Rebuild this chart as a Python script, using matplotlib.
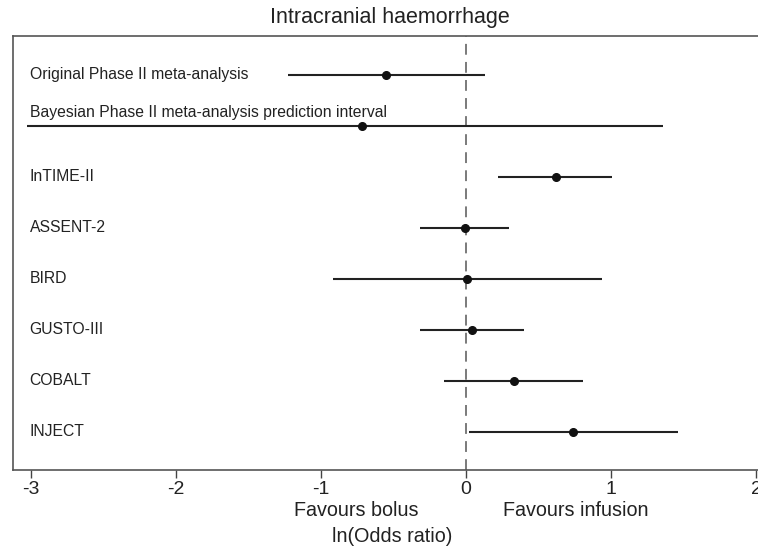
import matplotlib
matplotlib.use('Agg')
import matplotlib.pyplot as plt

# данные: ln(OR) с интервалами
studies = ["Original Phase II meta-analysis",
           "Bayesian Phase II meta-analysis prediction interval",
           "InTIME-II", "ASSENT-2", "BIRD", "GUSTO-III", "COBALT", "INJECT"]
estimate = [-0.55, -0.72, 0.62, -0.01, 0.01, 0.04, 0.33, 0.74]
lower = [-1.23, -3.03, 0.22, -0.32, -0.92, -0.32, -0.15, 0.02]
upper = [0.13, 1.36, 1.01, 0.30, 0.94, 0.40, 0.81, 1.46]
xticks = [-3, -2, -1, 0, 1, 2]

plt.rcParams['font.family'] = ['Liberation Sans', 'DejaVu Sans']

fig = plt.figure(figsize=(7.58, 5.47), dpi=100)
ax = fig.add_axes([13 / 758, 77 / 547, 745 / 758, 434 / 547])

rows = list(range(len(studies)))
ax.axvline(0, color='#707070', lw=1.3, ls=(0, (6, 4)), zorder=1)
ax.hlines(rows, lower, upper, color='#222222', lw=1.5, zorder=2)
ax.plot(estimate, rows, 'o', color='#111111', ms=5.5, zorder=3)

for i, name in enumerate(studies):
    dy = -0.26 if i == 1 else 0
    ax.text(-3.01, i + dy, name, fontsize=11.3, color='#222222', ha='left', va='center')

ax.set_xlim(-3.124, 2.014)
ax.set_ylim(7.75, -0.765)
ax.set_yticks([])
ax.set_xticks(xticks)
ax.set_xticklabels([str(t) for t in xticks], fontsize=14, color='#222222')
ax.tick_params(axis='x', length=6, width=1, color='#444444', pad=2)

for s in ['left', 'top', 'bottom']:
    ax.spines[s].set_color('#555555')
    ax.spines[s].set_linewidth(1.2)
ax.spines['right'].set_visible(False)

fig.text(390 / 758, 1 - 17 / 547, "Intracranial haemorrhage", fontsize=15.5, color='#222222',
         ha='center', va='center')
fig.text(356 / 758, 1 - 511 / 547, "Favours bolus", fontsize=14.2, color='#222222',
         ha='center', va='center')
fig.text(576 / 758, 1 - 511 / 547, "Favours infusion", fontsize=14.2, color='#222222',
         ha='center', va='center')
fig.text(392 / 758, 1 - 537 / 547, "ln(Odds ratio)", fontsize=14.2, color='#222222',
         ha='center', va='center')

plt.savefig('out.png', dpi=100)
plt.close()
